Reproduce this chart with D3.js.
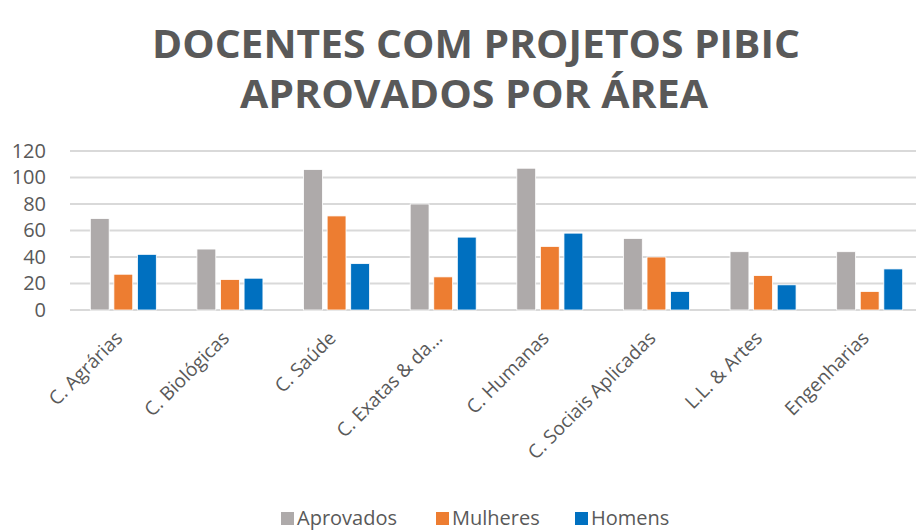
<html>
<head><meta charset="utf-8"></head>
<script src="https://d3js.org/d3.v7.min.js"></script>
<style>
  body { margin: 0; background: #fff; }
  text { font-family: "Open Sans", "Lato", sans-serif; fill: #595959; }
</style>
<body>
<svg width="916" height="531"></svg>
<script>
var categories = ["C. Agrárias", "C. Biológicas", "C. Saúde", "C. Exatas & da...",
                  "C. Humanas", "C. Sociais Aplicadas", "L.L. & Artes", "Engenharias"];
var series = ["Aprovados", "Mulheres", "Homens"];
var aprovados = [69, 46, 106, 80, 107, 54, 44, 44];
var mulheres  = [27, 23, 71, 25, 48, 40, 26, 14];
var homens    = [42, 24, 35, 55, 58, 14, 19, 31];
var yTicks = [0, 20, 40, 60, 80, 100, 120];
var colors = ["#AEAAAA", "#ED7D31", "#0070C0"];

var values = [aprovados, mulheres, homens];
var svg = d3.select("svg");

var x = d3.scaleBand().domain(categories).range([70, 923]);
var sub = d3.scaleBand().domain(series).range([x.bandwidth()/2 - 33, x.bandwidth()/2 + 33]).paddingInner(0.2);
var y = d3.scaleLinear().domain([0, 120]).range([310, 151]);

// title
var title = svg.append("g");
title.append("text").attr("x", 476).attr("y", 58).attr("text-anchor", "middle")
  .style("font-size", "40px").style("font-weight", "bold")
  .attr("textLength", 648).attr("lengthAdjust", "spacingAndGlyphs")
  .text("DOCENTES COM PROJETOS PIBIC");
title.append("text").attr("x", 474).attr("y", 108).attr("text-anchor", "middle")
  .style("font-size", "40px").style("font-weight", "bold")
  .attr("textLength", 468).attr("lengthAdjust", "spacingAndGlyphs")
  .text("APROVADOS POR ÁREA");

// grid
svg.append("g").selectAll("line").data(yTicks).enter().append("line")
  .attr("x1", 70).attr("x2", 916)
  .attr("y1", d => y(d)).attr("y2", d => y(d))
  .attr("stroke", "#d9d9d9").attr("stroke-width", 2);

// y axis labels
var yAxis = svg.append("g").attr("transform", "translate(58,0)")
  .call(d3.axisLeft(y).tickValues(yTicks).tickSize(0).tickPadding(12));
yAxis.select(".domain").remove();
yAxis.selectAll("text").style("font-size", "20px").style("font-family", "Open Sans").attr("fill", "#595959");

// bars
var groups = svg.append("g").selectAll("g").data(categories).enter().append("g")
  .attr("transform", d => "translate(" + x(d) + ",0)");
groups.selectAll("rect").data((d, i) => series.map((s, k) => ({s: s, v: values[k][i], k: k})))
  .enter().append("rect")
  .attr("x", d => sub(d.s))
  .attr("width", sub.bandwidth())
  .attr("y", d => y(d.v))
  .attr("height", d => y(0) - y(d.v))
  .attr("fill", d => colors[d.k])
  .attr("stroke", "#ffffff").attr("stroke-width", 0.8);

// x labels
var xAxis = svg.append("g").attr("transform", "translate(0,320)")
  .call(d3.axisBottom(x).tickSize(0).tickPadding(0));
xAxis.select(".domain").remove();
xAxis.selectAll("text")
  .style("font-size", "19px").style("font-family", "Open Sans").attr("fill", "#595959")
  .attr("text-anchor", "end").attr("dy", "0.7em")
  .attr("transform", "translate(-9,10) rotate(-45)");

// legend
var lx = [281, 436, 575];
var legend = svg.append("g").selectAll("g").data(series).enter().append("g")
  .attr("transform", (d, i) => "translate(" + lx[i] + ",512)");
legend.append("rect").attr("width", 13).attr("height", 13).attr("fill", (d, i) => colors[i]);
legend.append("text").attr("x", 16).attr("y", 13).style("font-size", "20px").text(d => d);
</script>
</body>
</html>
